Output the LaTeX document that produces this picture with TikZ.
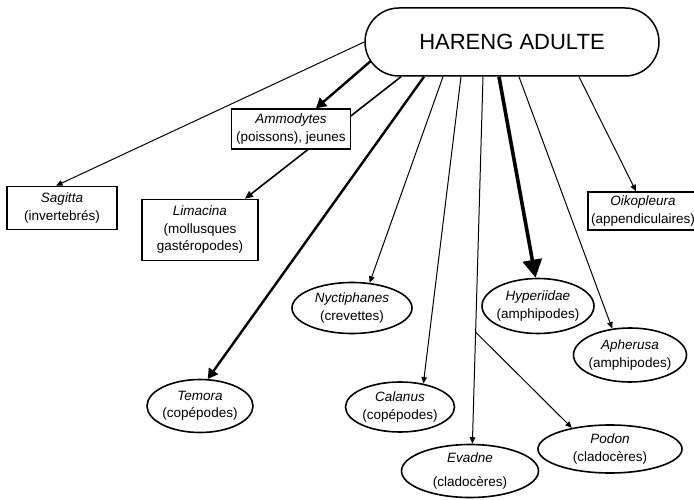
\documentclass[tikz,border=0pt]{standalone}
\usepackage{fontspec}
\setmainfont{Liberation Sans}
\usetikzlibrary{arrows.meta,shapes.geometric,calc}
\pgfdeclarelayer{bg}
\pgfsetlayers{bg,main}
\begin{document}
\begin{tikzpicture}[x=1pt,y=-1pt,
  txt/.style={font=\fontsize{13.5}{17.5}\selectfont, align=center, inner sep=0pt},
  boxn/.style={txt, draw, line width=1.5pt, fill=white, rectangle},
  elln/.style={draw, line width=1.6pt, fill=white, ellipse, inner sep=0pt},
  lnthin/.style={line width=1pt, -{Triangle[length=6.5pt,width=5.5pt]}},
  lnmed/.style={line width=1.6pt, -{Triangle[length=8pt,width=7pt]}},
  lnthick/.style={line width=2.4pt, -{Triangle[length=10pt,width=11pt]}},
  lnheavy/.style={line width=3.6pt, -{Triangle[length=18pt,width=19pt]}}]
\useasboundingbox (0,0) rectangle (694,500);

\node[draw, line width=1.5pt, fill=white, rounded corners=34pt, minimum width=294pt,
      minimum height=68pt, inner sep=0pt, font=\fontsize{22}{26}\selectfont] (H) at (512,42) {HARENG ADULTE};

\node[boxn, minimum width=110pt, minimum height=43pt] (Sag) at (62,208) {\textit{Sagitta}\\(invertebrés)};
\node[boxn, minimum width=119pt, minimum height=40pt] (Amm) at (291,129) {\textit{Ammodytes}\\(poissons), jeunes};
\node[boxn, minimum width=116pt, minimum height=61pt] (Lim) at (200,230) {\textit{Limacina}\\(mollusques\\gastéropodes)};
\node[boxn, minimum width=110pt, minimum height=38pt] (Oik) at (643,211) {\textit{Oikopleura}\\(appendiculaires)};

\node[elln, minimum width=120pt, minimum height=51pt, label={[txt]center:{\textit{Nyctiphanes}\\(crevettes)}}] (Nyc) at (352,308) {};
\node[elln, minimum width=106pt, minimum height=53pt, label={[txt]center:{\textit{Temora}\\(copépodes)}}] (Tem) at (200,406) {};
\node[elln, minimum width=109pt, minimum height=50pt, label={[txt]center:{\textit{Calanus}\\(copépodes)}}] (Cal) at (400,407) {};
\node[elln, minimum width=137pt, minimum height=53pt, label={[txt]center:{\textit{Evadne}\\[6pt](cladocères)}}] (Eva) at (470,471) {};
\node[elln, minimum width=112pt, minimum height=55pt, label={[txt]center:{\textit{Hyperiidae}\\(amphipodes)}}] (Hyp) at (538,306) {};
\node[elln, minimum width=113pt, minimum height=54pt, label={[txt]center:{\textit{Apherusa}\\(amphipodes)}}] (Aph) at (630,355) {};
\node[elln, minimum width=144pt, minimum height=48pt, label={[txt]center:{\textit{Podon}\\(cladocères)}}] (Pod) at (610,449) {};

\begin{pgfonlayer}{bg}
\draw[lnthin] (H.west) -- ([xshift=-6pt]Sag.north);
\draw[lnthick] ([xshift=-140pt,yshift=-18pt]H.center) -- ([xshift=25pt]Amm.north);
\draw[lnmed] ([xshift=-111pt]H.south) -- ([xshift=45pt]Lim.north);
\draw[lnthick] ([xshift=-88pt]H.south) -- (Tem.74);
\draw[lnthin] ([xshift=-69pt]H.south) -- (Nyc.55);
\draw[lnthin] ([xshift=-51pt]H.south) -- (Cal.45);
\coordinate (e1) at ([xshift=-29pt]H.south);
\draw[lnthin] (e1) -- (Eva.85);
\draw[lnthin] ($(e1)!0.696!(Eva.85)$) -- (Pod.151);
\draw[lnheavy] ([xshift=-13pt]H.south) -- (Hyp.95);
\draw[lnthin] ([xshift=7pt]H.south) -- (Aph.124);
\draw[lnthin] ([xshift=67pt]H.south) -- ([xshift=-7pt]Oik.north);
\end{pgfonlayer}
\end{tikzpicture}
\end{document}
